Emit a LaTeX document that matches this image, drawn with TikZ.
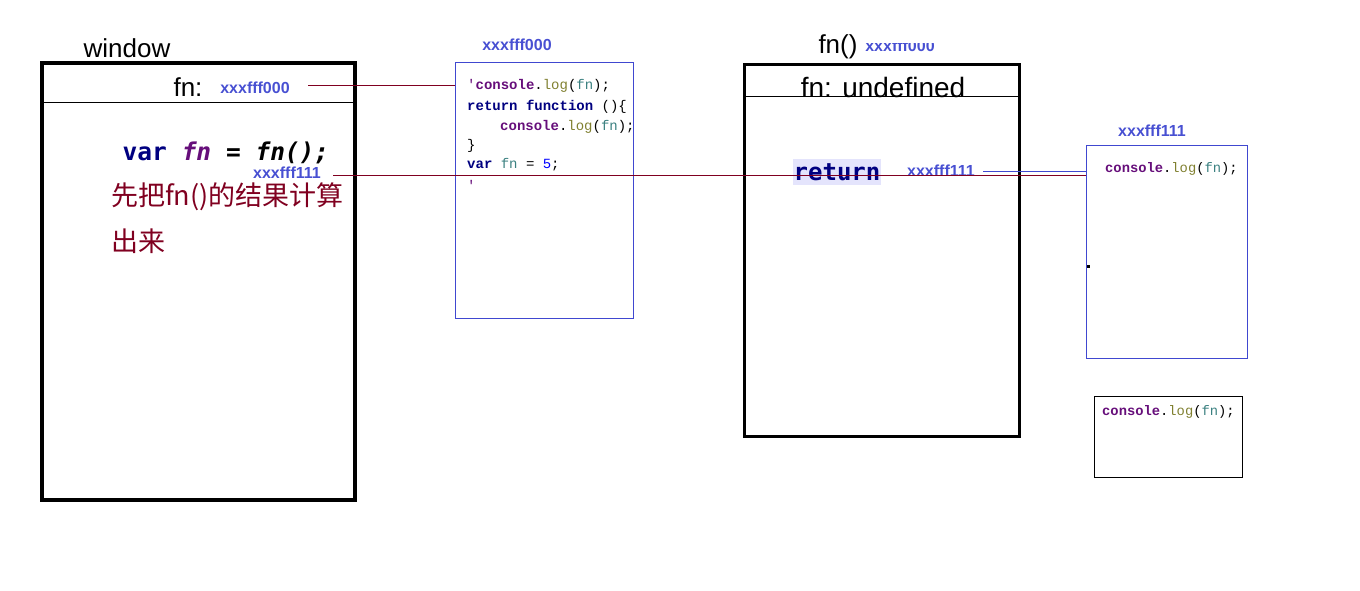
\documentclass[tikz,border=0pt]{standalone}
\usepackage{fontspec}
\setmainfont{Liberation Sans}
\newfontfamily\cjkfont{Noto Sans CJK SC}
\newfontfamily\codefont{Liberation Mono}
\newfontfamily\varfont{DejaVu Sans Mono}
\definecolor{addrblue}{RGB}{72,80,210}
\definecolor{boxblue}{RGB}{64,72,208}
\definecolor{wine}{RGB}{128,0,32}
\definecolor{kw}{RGB}{0,0,128}
\definecolor{obj}{RGB}{102,14,122}
\definecolor{meth}{RGB}{128,128,48}
\definecolor{ident}{RGB}{58,128,128}
\definecolor{hl}{RGB}{228,228,252}
\newcommand{\consolelog}{{\bfseries\color{obj}console}.{\color{meth}log}({\color{ident}fn});}

\begin{document}
\begin{tikzpicture}[x=1pt,y=-1pt,
    big/.style={font=\fontsize{26}{30}\selectfont},
    addr/.style={font=\fontsize{16}{18}\selectfont\bfseries,text=addrblue,inner sep=0},
    code/.style={font=\fontsize{14}{18}\codefont,anchor=west,inner sep=0},
    note/.style={font=\fontsize{27}{30}\cjkfont,text=wine,anchor=west,inner sep=0},
    box/.style={draw,anchor=north west,inner sep=0,outer sep=0}]

  \useasboundingbox (0,0) rectangle (1360,591);

  % boxes
  \begin{scope}[every node/.style={box}]
    \node[line width=4,minimum width=313,minimum height=437] (win) at (42,63) {};
    \node[draw=boxblue,minimum width=178,minimum height=256] (fbox) at (455,62) {};
    \node[line width=3,minimum width=275,minimum height=372] (call) at (744.5,64.5) {};
    \node[draw=boxblue,minimum width=161,minimum height=213] (rbox) at (1086,145) {};
    \node[minimum width=148,minimum height=81] (bbox) at (1094,396) {};
  \end{scope}
  \draw (win.west |- 0,102) -- (win.east |- 0,102);
  \draw (call.west |- 0,96) -- (call.east |- 0,96);

  % window
  \node[big] (wname) at (127,48) {window};
  \node[big] (wfn) at (188,87) {fn:};
  \node[addr] (a0) at (255,88) {xxxfff000};
  \node[font=\fontsize{24.5}{28}\varfont\bfseries] (var) at (226,153)
    {{\color{kw}var} {\color{obj}\itshape fn} = {\itshape fn();}};
  \node[addr] (a1) at (287,173) {xxxfff111};
  \node[note] (note1) at (111,197) {先把fn()的结果计算};
  \node[note] (note2) at (111,241) {出来};

  % function body
  \node[addr] (fa) at (517,45) {xxxfff000};
  \node[code] (c1) at (467,86) {{\color{obj}'}\consolelog};
  \node[code] (c2) at (467,107) {{\bfseries\color{kw}return function} ()\{};
  \node[code] (c3) at (467,127) {\hspace{33pt}\consolelog};
  \node[code] (c4) at (467,146) {\}};
  \node[code] (c5) at (467,165) {{\bfseries\color{kw}var} {\color{ident}fn} = {\color{blue}5};};
  \node[code] (c6) at (467,185) {{\color{obj}'}};

  % fn() call
  \node[big] (cname) at (838,47) {fn()};
  \begin{scope}
    \clip (860,44) rectangle (960,60);
    \node[addr] (ca) at (900,46) {xxxfff000};
  \end{scope}
  \node[font=\fontsize{28}{30}\selectfont] (cfn) at (883,87) {fn: undefined};
  \node[fill=hl,font=\fontsize{24}{28}\varfont\bfseries,text=kw,inner xsep=1,inner ysep=4] (ret) at (837,172) {return};
  \node[addr] (ra) at (941,171) {xxxfff111};

  % returned function
  \node[addr] (rba) at (1152,131) {xxxfff111};
  \node[code,font=\fontsize{13.8}{16}\codefont] (rc) at (1105,169) {\consolelog};
  \node[fill,minimum size=3,inner sep=0] (dot) at (1088,266) {};
  \node[code,font=\fontsize{13.8}{16}\codefont] (bc) at (1102,412) {\consolelog};

  % links
  \coordinate (p1) at (308,85);
  \coordinate (p2) at (333,175);
  \coordinate (p3) at (983,171);
  \draw[wine] (p1) -- (p1 -| fbox.west);
  \draw[wine] (p2) -- (p2 -| rbox.west);
  \draw[boxblue] (p3) -- (p3 -| rbox.west);

\end{tikzpicture}
\end{document}
